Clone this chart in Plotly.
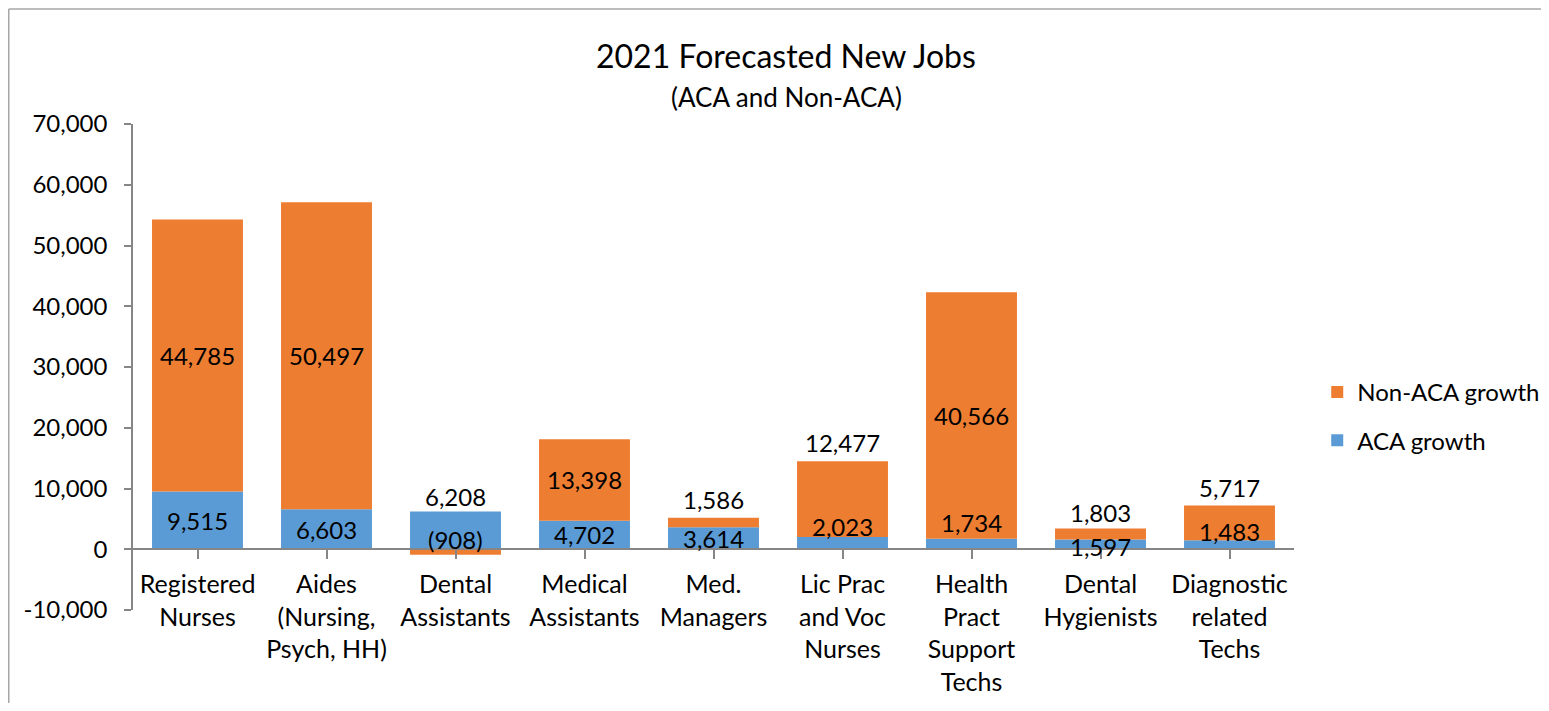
import plotly.graph_objects as go

# ---------------- data ----------------
categories = [
    "Registered<br>Nurses",
    "Aides<br>(Nursing,<br>Psych, HH)",
    "Dental<br>Assistants",
    "Medical<br>Assistants",
    "Med.<br>Managers",
    "Lic Prac<br>and Voc<br>Nurses",
    "Health<br>Pract<br>Support<br>Techs",
    "Dental<br>Hygienists",
    "Diagnostic<br>related<br>Techs",
]
aca_growth = [9515, 6603, 6208, 4702, 3614, 2023, 1734, 1597, 1483]
non_aca_growth = [44785, 50497, -908, 13398, 1586, 12477, 40566, 1803, 5717]
y_tick_values = [-10000, 0, 10000, 20000, 30000, 40000, 50000, 60000, 70000]

# ---------------- styling ----------------
# page body has an 8px default margin, so the figure is sized to fit inside it
W, H = 1533, 695
ML, MR, MT, MB = 125, 247, 116, 93
FONT = "Lato"
ORANGE = "#ED7D31"
BLUE = "#5B9BD5"
AXIS = "#868686"
YMIN, YMAX = -10000, 70000

# manual vertical nudges (px) for labels, as in the original chart
aca_label_shift = [0, 0, 34, 0, 0, 17, 21, -2, 13]
non_label_shift = [0, 0, 13, 0, 23, 57, 0, 22, 35]

def fmt(v):
    return f"({abs(v):,})" if v < 0 else f"{v:,}"

x_idx = list(range(len(categories)))

fig = go.Figure()
fig.add_trace(go.Bar(
    x=x_idx, y=aca_growth, name="ACA growth",
    marker=dict(color=BLUE, line=dict(width=0)),
    legendgroup="a", legendrank=2,
))
fig.add_trace(go.Bar(
    x=x_idx, y=non_aca_growth, name="Non-ACA growth",
    marker=dict(color=ORANGE, line=dict(width=0)),
    legendgroup="b", legendrank=1,
))

LABEL_FONT = dict(family=FONT, size=24, color="#000000")
ann = []
for i, (a, n) in enumerate(zip(aca_growth, non_aca_growth)):
    a_center = a / 2
    n_center = a + n / 2 if n >= 0 else n / 2
    ann.append(dict(x=i, y=a_center, xref="x", yref="y", text=fmt(a),
                    showarrow=False, yshift=aca_label_shift[i], font=LABEL_FONT))
    ann.append(dict(x=i, y=n_center, xref="x", yref="y", text=fmt(n),
                    showarrow=False, yshift=non_label_shift[i], font=LABEL_FONT))

pw = W - ML - MR
ph = H - MT - MB

def px2x(px):
    return (px - ML) / pw

def py2y(py):
    return (H - MB - py) / ph

ann.append(dict(x=px2x(778), y=py2y(47), xref="paper", yref="paper",
                text="2021 Forecasted New Jobs", showarrow=False,
                xanchor="center", yanchor="middle",
                font=dict(family=FONT, size=32, color="#000000")))
ann.append(dict(x=px2x(778), y=py2y(89), xref="paper", yref="paper",
                text="(ACA and Non-ACA)", showarrow=False,
                xanchor="center", yanchor="middle",
                font=dict(family=FONT, size=26, color="#000000")))

shapes = []
# outer chart border (left and top edges visible)
shapes.append(dict(type="line", xref="paper", yref="paper",
                   x0=px2x(0.75), x1=px2x(0.75), y0=py2y(1), y1=py2y(720),
                   line=dict(color="#A6A6A6", width=1.5)))
shapes.append(dict(type="line", xref="paper", yref="paper",
                   x0=px2x(0.75), x1=px2x(1560), y0=py2y(1), y1=py2y(1),
                   line=dict(color="#A6A6A6", width=1.5)))

fig.update_layout(
    width=W, height=H,
    margin=dict(l=ML, r=MR, t=MT, b=MB, autoexpand=False),
    barmode="relative",
    bargap=0.295,
    plot_bgcolor="white",
    paper_bgcolor="white",
    font=dict(family=FONT, size=24, color="#000000"),
    showlegend=True,
    legend=dict(
        x=1.020, y=0.494, xanchor="left", yanchor="top",
        traceorder="grouped", tracegroupgap=14,
        font=dict(family=FONT, size=24, color="#000000"),
        bgcolor="rgba(0,0,0,0)",
    ),
    annotations=ann,
    shapes=shapes,
    xaxis=dict(
        tickmode="array", tickvals=x_idx, ticktext=categories,
        range=[-0.5, len(categories) - 0.5],
        anchor="free", position=(0 - YMIN) / (YMAX - YMIN),
        showline=True, linecolor=AXIS, linewidth=1.5,
        ticks="outside", ticklen=9, tickcolor=AXIS, tickwidth=1.5,
        tickson="boundaries", automargin=False,
        showgrid=False, zeroline=False,
        tickfont=dict(family=FONT, size=25, color="#000000"),
        ticklabelstandoff=4,
    ),
    yaxis=dict(
        range=[YMIN, YMAX], tickmode="array", tickvals=y_tick_values,
        ticktext=[f"{v:,}" for v in y_tick_values],
        showline=True, linecolor=AXIS, linewidth=1.5,
        ticks="outside", ticklen=7, tickcolor=AXIS, tickwidth=1.5,
        showgrid=False, zeroline=False, automargin=False,
        tickfont=dict(family=FONT, size=24, color="#000000"),
        ticklabelstandoff=12,
    ),
)

fig.write_html("out.html")
